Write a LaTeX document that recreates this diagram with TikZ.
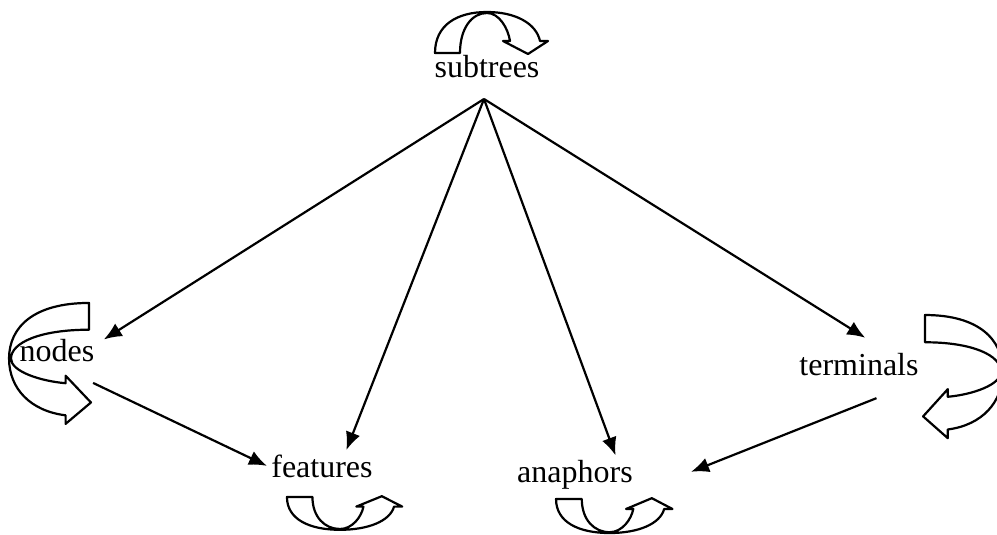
\documentclass[tikz,border=0pt]{standalone}
\usepackage{fontspec}
\setmainfont{Liberation Serif}
\usetikzlibrary{arrows.meta}

% hollow u-turn arrow, drawn as an arch with its head on the right
\newcommand{\uturnarrow}{%
  \draw[turn] (-52,0) -- (-27,0) .. controls (-27,-25) and (-15,-40) .. (0,-40)
    .. controls (12,-40) and (21,-25) .. (23,-12) -- (16,-12) -- (41,1) -- (61,-12) -- (53,-12)
    .. controls (49,-30) and (28,-41) .. (0,-41) .. controls (-30,-41) and (-52,-28) .. (-52,0) -- cycle;}

\begin{document}
\begin{tikzpicture}[x=0.5pt,y=-0.5pt,>={Latex[length=9pt,width=7.5pt]},
    lbl/.style={inner sep=2pt,anchor=base,font=\fontsize{16}{19}\selectfont},
    link/.style={->,line width=1.1pt},
    turn/.style={line width=1.1pt,line join=round}]
  \useasboundingbox (0,0) rectangle (997,535);
  % labels
  \node[lbl] (subtrees) at (487,78) {subtrees};
  \node[lbl] (nodes) at (57,361) {nodes};
  \node[lbl] (features) at (322,477) {features};
  \node[lbl] (anaphors) at (575,482) {anaphors};
  \node[lbl] (terminals) at (859,375) {terminals};
  \coordinate (hub) at (484,99);
  % fan out of subtrees
  \draw[link,shorten >=3pt] (hub) -- (nodes.10);
  \draw[link] (hub) -- (features.33);
  \draw[link] (hub) -- (anaphors.25);
  \draw[link,shorten >=10pt] (hub) -- (terminals.34);
  % side links
  \draw[link,shorten <=20pt] (nodes.south) -- (features.west);
  \draw[link,shorten <=25pt,shorten >=29pt] (terminals.south east) -- (anaphors.south east);
  % loops
  \begin{scope}[shift={(487,53)}]
    \uturnarrow
  \end{scope}
  \begin{scope}[shift={(340,497)},x={(0.51pt,0pt)},y={(0pt,0.4pt)}]
    \uturnarrow
  \end{scope}
  \begin{scope}[shift={(609.6,499)},x={(0.515pt,0pt)},y={(0pt,0.415pt)}]
    \uturnarrow
  \end{scope}
  \begin{scope}[shift={(89,358.6)},x={(0pt,-0.535pt)},y={(0.975pt,0pt)}]
    \uturnarrow
  \end{scope}
  \begin{scope}[shift={(925,371.7)},x={(0pt,-0.545pt)},y={(-0.95pt,0pt)}]
    \uturnarrow
  \end{scope}
\end{tikzpicture}
\end{document}
